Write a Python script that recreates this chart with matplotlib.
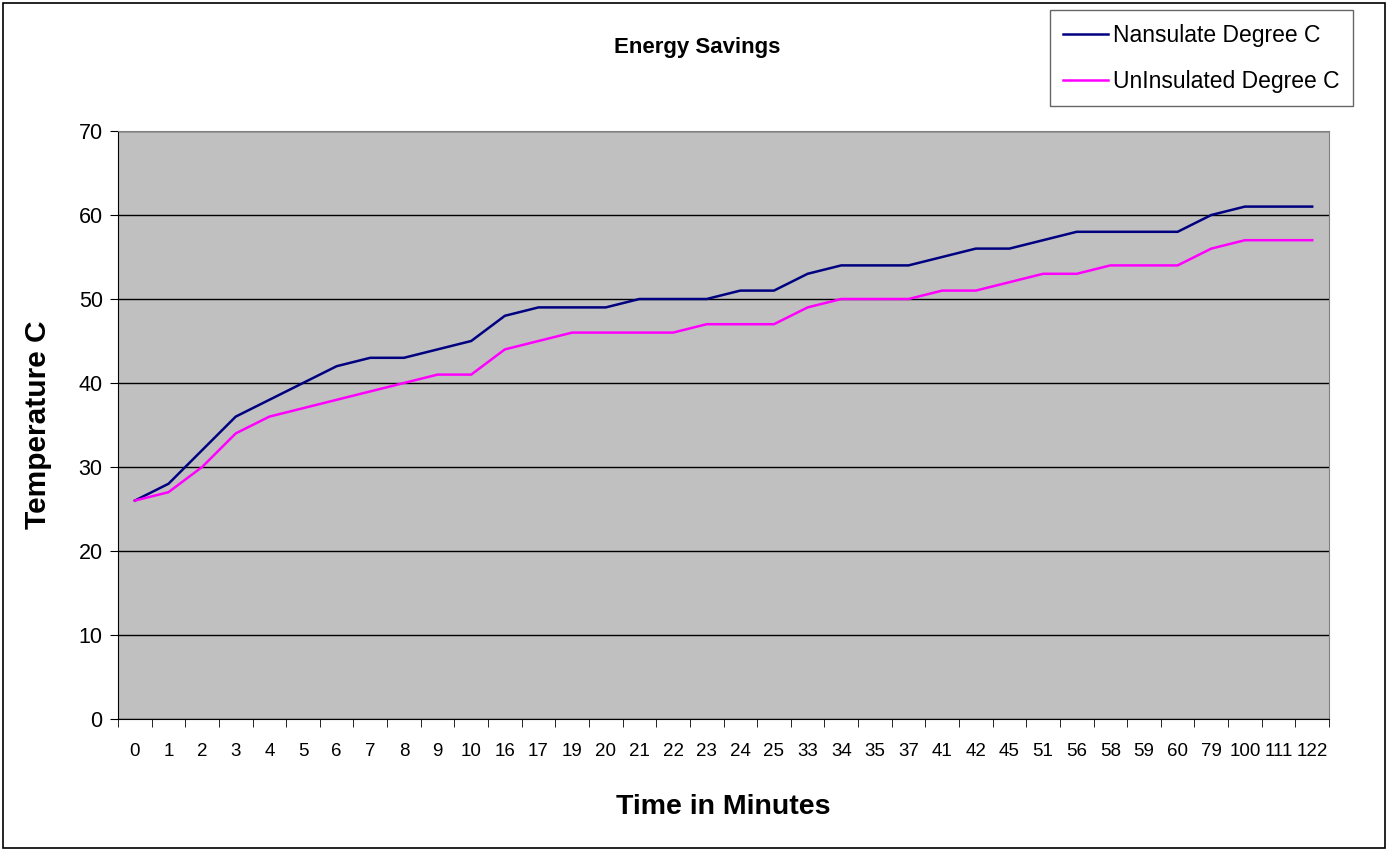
import numpy as np
import matplotlib
matplotlib.use('Agg')
import matplotlib.pyplot as plt
from matplotlib.patches import Rectangle

plt.rcParams['font.family'] = ['Liberation Sans', 'DejaVu Sans']

# --- DATOS ---
minutes = ['0', '1', '2', '3', '4', '5', '6', '7', '8', '9', '10', '16', '17', '19',
           '20', '21', '22', '23', '24', '25', '33', '34', '35', '37', '41', '42',
           '45', '51', '56', '58', '59', '60', '79', '100', '111', '122']
nansulate = [26, 28, 32, 36, 38, 40, 42, 43, 43, 44, 45, 48, 49, 49, 49, 50, 50, 50,
             51, 51, 53, 54, 54, 54, 55, 56, 56, 57, 58, 58, 58, 58, 60, 61, 61, 61]
uninsulated = [26, 27, 30, 34, 36, 37, 38, 39, 40, 41, 41, 44, 45, 46, 46, 46, 46, 47,
               47, 47, 49, 50, 50, 50, 51, 51, 52, 53, 53, 54, 54, 54, 56, 57, 57, 57]
y_ticks = [0, 10, 20, 30, 40, 50, 60, 70]

# --- FIGURA ---
fig = plt.figure(figsize=(13.89, 8.51), dpi=100)
ax = fig.add_axes([118 / 1389, 1 - 719 / 851, (1329 - 118) / 1389, (719 - 131) / 851])
ax.set_facecolor('#C0C0C0')

x = np.arange(len(minutes))
ax.plot(x, nansulate, color='#000080', lw=1.8, label='Nansulate Degree C', zorder=3)
ax.plot(x, uninsulated, color='#FF00FF', lw=1.8, label='UnInsulated Degree C', zorder=3)

ax.set_xlim(-0.5, len(minutes) - 0.5)
ax.set_ylim(0, 70)
ax.set_yticks(y_ticks)
ax.yaxis.grid(True, color='black', lw=1)
ax.set_axisbelow(True)

# ticks entre categorias (estilo Excel)
ax.set_xticks(x)
ax.set_xticklabels(minutes, fontsize=13.5)
ax.set_xticks(np.arange(len(minutes) + 1) - 0.5, minor=True)
ax.tick_params(axis='x', which='major', length=0, pad=17)
ax.tick_params(axis='x', which='minor', length=6, direction='out')
ax.tick_params(axis='y', length=6, direction='out', labelsize=15.5, pad=5)

for s in ['left', 'bottom']:
    ax.spines[s].set_color('black')
for s in ['top', 'right']:
    ax.spines[s].set_color('#808080')

ax.set_ylabel('Temperature C', fontsize=21.5, fontweight='bold')
ax.yaxis.set_label_coords(-0.0545, 0.5)
ax.set_xlabel('Time in Minutes', fontsize=20.5, fontweight='bold')
ax.xaxis.set_label_coords(0.5, -0.128)
fig.text(697 / 1389, 1 - 47 / 851, 'Energy Savings', fontsize=16, fontweight='bold',
         ha='center', va='center')

leg = fig.legend(loc='upper right', bbox_to_anchor=(1353 / 1389, 1 - 10 / 851),
                 borderaxespad=0, fontsize=16.5, frameon=True, fancybox=False,
                 edgecolor='#404040', handlelength=1.95, handletextpad=0.2,
                 borderpad=0.6, labelspacing=1.0)
leg.get_frame().set_linewidth(1.0)

# borde exterior
fig.patches.append(Rectangle((0.002, 0.003), 0.995, 0.994, transform=fig.transFigure,
                             fill=False, edgecolor='black', lw=1.2))

fig.savefig('out.png', dpi=100)
